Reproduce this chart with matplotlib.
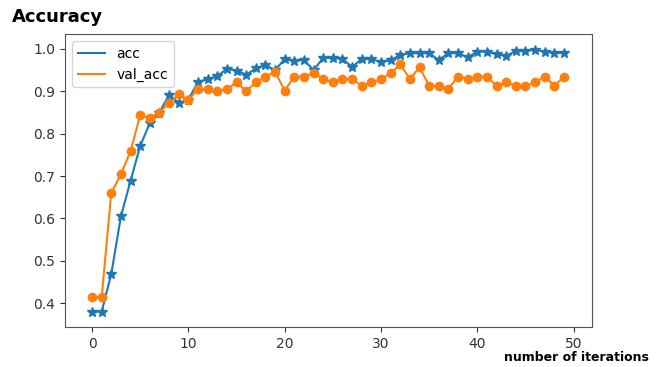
import matplotlib
matplotlib.use('Agg')
import matplotlib.pyplot as plt

# valores
iteracoes = list(range(50))
acc = [0.38, 0.38, 0.469, 0.605, 0.689, 0.771, 0.825, 0.85, 0.892, 0.873,
       0.88, 0.923, 0.928, 0.936, 0.953, 0.949, 0.939, 0.954, 0.962, 0.95,
       0.976, 0.972, 0.974, 0.95, 0.979, 0.979, 0.976, 0.958, 0.976, 0.976,
       0.969, 0.973, 0.986, 0.99, 0.99, 0.99, 0.974, 0.99, 0.99, 0.98,
       0.994, 0.994, 0.987, 0.984, 0.995, 0.995, 0.998, 0.994, 0.99, 0.991]
val_acc = [0.414, 0.414, 0.661, 0.704, 0.759, 0.844, 0.837, 0.85, 0.873, 0.893,
           0.88, 0.905, 0.905, 0.901, 0.905, 0.921, 0.901, 0.921, 0.935, 0.946,
           0.902, 0.935, 0.935, 0.943, 0.929, 0.921, 0.929, 0.929, 0.913, 0.921,
           0.929, 0.943, 0.964, 0.929, 0.957, 0.913, 0.913, 0.906, 0.935, 0.929,
           0.935, 0.935, 0.913, 0.921, 0.913, 0.913, 0.921, 0.935, 0.913, 0.935]

fig = plt.figure(figsize=(6.57, 3.67), dpi=100)
ax = fig.add_axes([0.099, 0.109, 0.802, 0.798])

# linhas (com legenda) e marcadores (sem legenda)
ax.plot(iteracoes, acc, color='#1f77b4', label='acc')
ax.plot(iteracoes, val_acc, color='#ff7f0e', label='val_acc')
ax.plot(iteracoes, acc, '*', markersize=7, color='#1f77b4')
ax.plot(iteracoes, val_acc, 'o', markersize=6, color='#ff7f0e')

ax.set_xlim(-2.8, 51.9)
ax.set_ylim(0.344, 1.035)
ax.set_xticks([0, 10, 20, 30, 40, 50])
ax.set_yticks([0.4, 0.5, 0.6, 0.7, 0.8, 0.9, 1.0])
ax.tick_params(colors='#333333', labelsize=10)
for lado in ax.spines.values():
    lado.set_color('#555555')

ax.legend(loc='upper left', fontsize=10)

fig.text(0.018, 0.955, 'Accuracy', fontsize=13, fontweight='bold', va='center')
fig.text(0.987, 0.025, 'number of iterations', fontsize=9, fontweight='bold',
         ha='right', va='center')

fig.savefig('out.png', dpi=100)
